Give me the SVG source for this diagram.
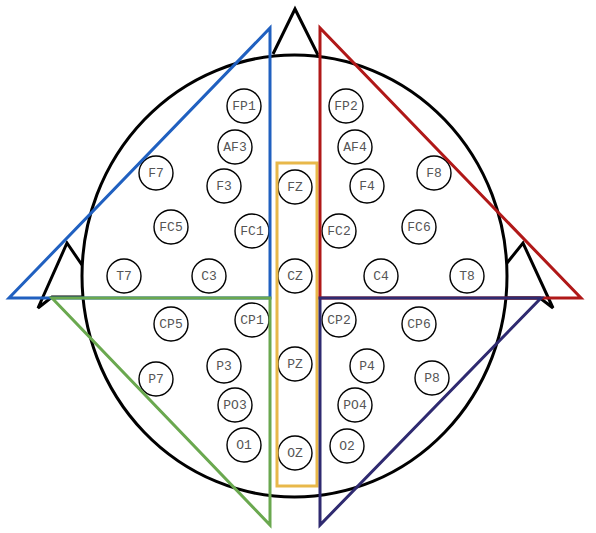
<svg xmlns="http://www.w3.org/2000/svg" width="596" height="533" viewBox="0 0 596 533">
<style>
.head{fill:none;stroke:#000;stroke-width:3;stroke-linejoin:miter}
.el circle{fill:#fff;stroke:#000;stroke-width:1.4}
.el text{font-family:"Liberation Mono","Courier New",monospace;font-size:13px;fill:#555;text-anchor:middle;dominant-baseline:central}
.reg{fill:none;stroke-width:3;stroke-linejoin:miter}
</style>
<rect width="596" height="533" fill="#fff"/>
<g id="head">
<ellipse class="head" cx="294.5" cy="276" rx="212.5" ry="221"/>
<polyline class="head" points="273,54 295,9 318,55"/>
<polyline class="head" points="82,265 67,243 38,308 52,297 82,297"/>
<polyline class="head" points="507,263 523,243 553,308 540,298 507,298"/>
</g>
<g id="electrodes" class="el">
<g id="FP1"><circle cx="244" cy="106" r="17"/><text x="244" y="106">FP1</text></g>
<g id="FP2"><circle cx="346" cy="106" r="17"/><text x="346" y="106">FP2</text></g>
<g id="AF3"><circle cx="235" cy="147" r="17"/><text x="235" y="147">AF3</text></g>
<g id="AF4"><circle cx="355" cy="147" r="17"/><text x="355" y="147">AF4</text></g>
<g id="F7"><circle cx="156" cy="173" r="17"/><text x="156" y="173">F7</text></g>
<g id="F3"><circle cx="224" cy="186" r="17"/><text x="224" y="186">F3</text></g>
<g id="FZ"><circle cx="295" cy="187" r="17"/><text x="295" y="187">FZ</text></g>
<g id="F4"><circle cx="367" cy="186" r="17"/><text x="367" y="186">F4</text></g>
<g id="F8"><circle cx="434" cy="173" r="17"/><text x="434" y="173">F8</text></g>
<g id="FC5"><circle cx="171" cy="227" r="17"/><text x="171" y="227">FC5</text></g>
<g id="FC1"><circle cx="252" cy="231" r="17"/><text x="252" y="231">FC1</text></g>
<g id="FC2"><circle cx="339" cy="231" r="17"/><text x="339" y="231">FC2</text></g>
<g id="FC6"><circle cx="419" cy="227" r="17"/><text x="419" y="227">FC6</text></g>
<g id="T7"><circle cx="124" cy="276" r="17"/><text x="124" y="276">T7</text></g>
<g id="C3"><circle cx="209" cy="276" r="17"/><text x="209" y="276">C3</text></g>
<g id="CZ"><circle cx="295" cy="276" r="17"/><text x="295" y="276">CZ</text></g>
<g id="C4"><circle cx="381" cy="276" r="17"/><text x="381" y="276">C4</text></g>
<g id="T8"><circle cx="467" cy="276" r="17"/><text x="467" y="276">T8</text></g>
<g id="CP5"><circle cx="171" cy="324" r="17"/><text x="171" y="324">CP5</text></g>
<g id="CP1"><circle cx="252" cy="320" r="17"/><text x="252" y="320">CP1</text></g>
<g id="CP2"><circle cx="339" cy="320" r="17"/><text x="339" y="320">CP2</text></g>
<g id="CP6"><circle cx="419" cy="324" r="17"/><text x="419" y="324">CP6</text></g>
<g id="P7"><circle cx="156" cy="379" r="17"/><text x="156" y="379">P7</text></g>
<g id="P3"><circle cx="224" cy="366" r="17"/><text x="224" y="366">P3</text></g>
<g id="PZ"><circle cx="295" cy="364" r="17"/><text x="295" y="364">PZ</text></g>
<g id="P4"><circle cx="367" cy="366" r="17"/><text x="367" y="366">P4</text></g>
<g id="P8"><circle cx="432" cy="378" r="17"/><text x="432" y="378">P8</text></g>
<g id="PO3"><circle cx="235" cy="405" r="17"/><text x="235" y="405">PO3</text></g>
<g id="PO4"><circle cx="355" cy="405" r="17"/><text x="355" y="405">PO4</text></g>
<g id="O1"><circle cx="244" cy="445" r="17"/><text x="244" y="445">O1</text></g>
<g id="OZ"><circle cx="295" cy="453" r="17"/><text x="295" y="453">OZ</text></g>
<g id="O2"><circle cx="347" cy="446" r="17"/><text x="347" y="446">O2</text></g>
</g>
<g id="regions">
<rect id="midline" class="reg" x="277" y="163" width="40" height="323" stroke="#e8b84a"/>
<polygon id="left-front" class="reg" points="270,28 270,298 9,298" stroke="#2060c0"/>
<polygon id="right-front" class="reg" points="320,28 320,298 581,298" stroke="#b01818"/>
<polygon id="left-back" class="reg" points="52,298 270,298 270,525" stroke="#6aa84f"/>
<polygon id="right-back" class="reg" points="320,298 541,298 320,525" stroke="#2f2a70"/>
</g>
</svg>
